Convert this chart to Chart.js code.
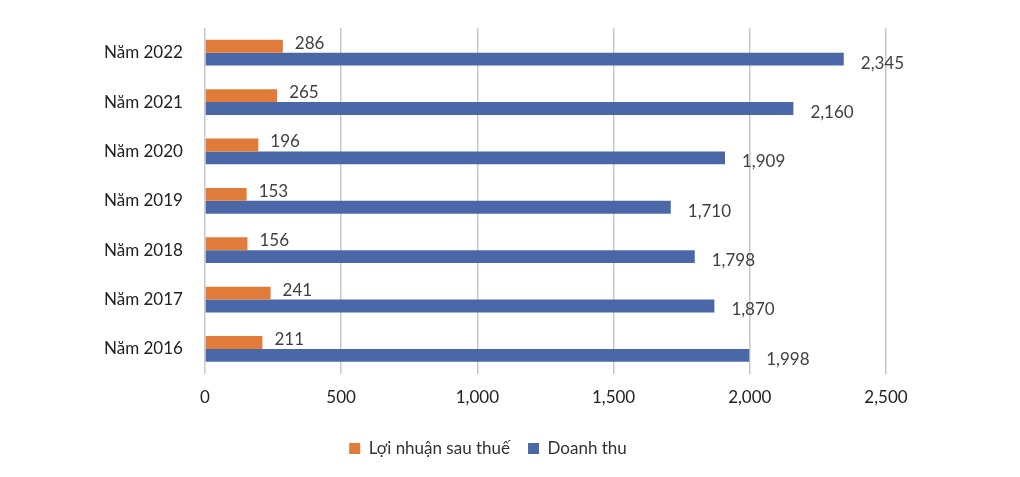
<!DOCTYPE html>
<html lang="vi">
<head>
<meta charset="UTF-8">
<script src="https://cdn.jsdelivr.net/npm/chart.js"></script>
<style>
  html, body { margin: 0; padding: 0; background: #fff; }
  #wrap { width: 1020px; height: 477px; position: relative; }
</style>
</head>
<body>
<div id="wrap"><canvas id="chart"></canvas></div>
<script>
const years = ['Năm 2022', 'Năm 2021', 'Năm 2020', 'Năm 2019', 'Năm 2018', 'Năm 2017', 'Năm 2016'];
const profit = [286, 265, 196, 153, 156, 241, 211];
const revenue = [2345, 2160, 1909, 1710, 1798, 1870, 1998];
const xTicks = [0, 500, 1000, 1500, 2000, 2500];

const FONT = 'Lato, "Open Sans", sans-serif';

// draws the value next to each bar end
const valueLabels = {
  id: 'valueLabels',
  afterDatasetsDraw(chart) {
    const ctx = chart.ctx;
    ctx.save();
    ctx.font = '17px ' + FONT;
    ctx.fillStyle = '#404040';
    ctx.textBaseline = 'middle';
    ctx.textAlign = 'left';
    chart.data.datasets.forEach((ds, i) => {
      chart.getDatasetMeta(i).data.forEach((bar, j) => {
        const v = ds.data[j];
        const dy = i === 0 ? -3 : 4;
        const dx = i === 0 ? 12 : 17;
        ctx.fillText(v.toLocaleString('en-US'), bar.x + dx, bar.y + dy);
      });
    });
    ctx.restore();
  }
};

new Chart(document.getElementById('chart'), {
  type: 'bar',
  data: {
    labels: years,
    datasets: [
      { label: 'Lợi nhuận sau thuế', data: profit, backgroundColor: '#E07B39' },
      { label: 'Doanh thu', data: revenue, backgroundColor: '#4A68A8' }
    ]
  },
  options: {
    indexAxis: 'y',
    responsive: true,
    maintainAspectRatio: false,
    animation: false,
    datasets: { bar: { categoryPercentage: 0.52, barPercentage: 1 } },
    layout: { padding: { left: 90, right: 134, top: 28, bottom: 10 } },
    scales: {
      x: {
        min: 0, max: 2500,
        afterBuildTicks: s => { s.ticks = xTicks.map(v => ({ value: v })); },
        grid: { color: '#c8c8c8', lineWidth: 1.5, drawTicks: false },
        border: { display: false },
        ticks: { padding: 14, color: '#222', font: { size: 17, family: FONT },
                 callback: v => v.toLocaleString('en-US') }
      },
      y: {
        grid: { display: false },
        border: { display: false },
        ticks: { padding: 14, color: '#222', font: { size: 17, family: FONT } }
      }
    },
    plugins: {
      legend: {
        position: 'bottom',
        labels: { boxWidth: 11, boxHeight: 11, padding: 18, color: '#333',
                  font: { size: 17, family: FONT } }
      },
      tooltip: { enabled: false }
    }
  },
  plugins: [valueLabels]
});
</script>
</body>
</html>
